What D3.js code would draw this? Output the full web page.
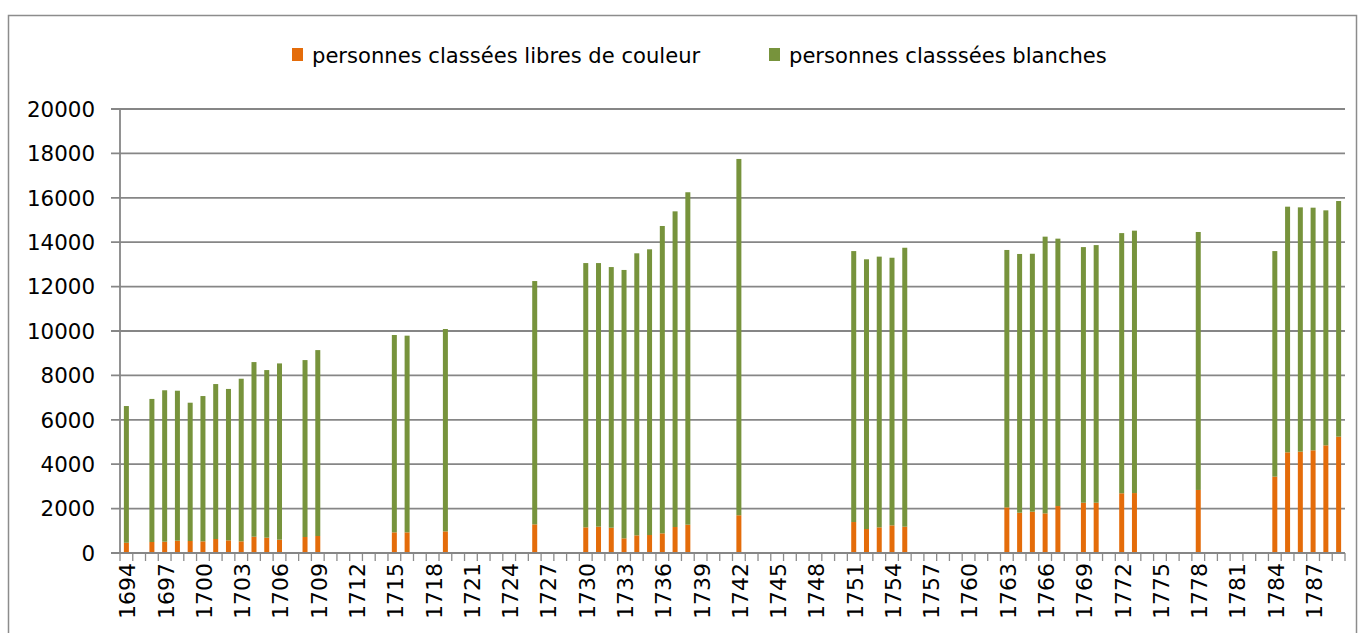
<!DOCTYPE html>
<html>
<head>
<meta charset="utf-8">
<script src="https://cdn.jsdelivr.net/npm/d3@7"></script>
<style>
  body { margin: 0; background: #fff; }
  svg { display: block; font-family: "DejaVu Sans", sans-serif; }
</style>
</head>
<body>
<div id="chart"></div>
<script>
// years that have a census value
var years = [1694, 1696, 1697, 1698, 1699, 1700, 1701, 1702, 1703, 1704, 1705, 1706, 1708, 1709,
             1715, 1716, 1719, 1726, 1730, 1731, 1732, 1733, 1734, 1735, 1736, 1737, 1738, 1742,
             1751, 1752, 1753, 1754, 1755, 1763, 1764, 1765, 1766, 1767, 1769, 1770, 1772, 1773,
             1778, 1784, 1785, 1786, 1787, 1788, 1789];

var libres = [460, 495, 510, 555, 540, 525, 630, 570, 525, 735, 690, 600, 720, 765,
              930, 930, 975, 1290, 1155, 1185, 1140, 660, 795, 810, 885, 1170, 1275, 1700,
              1395, 1080, 1155, 1245, 1185, 2055, 1815, 1860, 1785, 2115, 2265, 2265, 2690, 2700,
              2840, 3440, 4535, 4565, 4625, 4850, 5240];

var blanches = [6160, 6445, 6820, 6755, 6230, 6545, 6980, 6820, 7325, 7865, 7550, 7940, 7970, 8375,
                8890, 8860, 9115, 10960, 11905, 11875, 11740, 12090, 12705, 12870, 13845, 14220, 14975, 16050,
                12205, 12150, 12195, 12055, 12565, 11595, 11655, 11620, 12465, 12045, 11515, 11605, 11720, 11820,
                11620, 10160, 11065, 11005, 10930, 10585, 10615];

var seriesNames = ['personnes classées libres de couleur', 'personnes classsées blanches'];
var yTicks = [0, 2000, 4000, 6000, 8000, 10000, 12000, 14000, 16000, 18000, 20000];

var width = 1363, height = 633;
var margin = {left: 120, right: 18, top: 109, bottom: 80};
var colors = ['#e46c0a', '#77933c'];

var svg = d3.select('#chart').append('svg')
  .attr('width', width)
  .attr('height', height);

svg.append('rect')
  .attr('x', 8.5).attr('y', 15.5)
  .attr('width', 1348).attr('height', 640)
  .attr('fill', 'none')
  .attr('stroke', '#8c8c8c')
  .attr('stroke-width', 1.5);

var axisYears = d3.range(1694, 1790);
var x = d3.scaleBand()
  .domain(axisYears)
  .range([margin.left, width - margin.right])
  .padding(0);

var y = d3.scaleLinear()
  .domain([0, 20000])
  .range([553, margin.top]);

// gridlines
svg.append('g')
  .selectAll('line')
  .data(yTicks)
  .enter().append('line')
  .attr('x1', margin.left - 9)
  .attr('x2', width - margin.right)
  .attr('y1', function(d) { return y(d); })
  .attr('y2', function(d) { return y(d); })
  .attr('stroke', '#868686')
  .attr('stroke-width', 1.8);

// y labels
svg.append('g')
  .selectAll('text')
  .data(yTicks)
  .enter().append('text')
  .attr('x', 95)
  .attr('y', function(d) { return y(d); })
  .attr('dy', '0.36em')
  .attr('text-anchor', 'end')
  .style('font-size', '21.4px')
  .attr('fill', '#000')
  .text(function(d) { return d; });

// y axis line
svg.append('line')
  .attr('x1', margin.left).attr('x2', margin.left)
  .attr('y1', y(20000)).attr('y2', 553)
  .attr('stroke', '#868686').attr('stroke-width', 1.8);

// x ticks on category boundaries
var bounds = axisYears.map(function(d) { return x(d); }).concat([width - margin.right]);
svg.append('g')
  .selectAll('line')
  .data(bounds)
  .enter().append('line')
  .attr('x1', function(d) { return d; })
  .attr('x2', function(d) { return d; })
  .attr('y1', 553).attr('y2', 561)
  .attr('stroke', '#8c8c8c').attr('stroke-width', 1.3);

// x labels, every third year
var labelYears = axisYears.filter(function(d) { return (d - 1694) % 3 === 0; });
svg.append('g')
  .selectAll('text')
  .data(labelYears)
  .enter().append('text')
  .attr('transform', function(d) {
    return 'translate(' + (x(d) + x.bandwidth() / 2 + 1) + ',563) rotate(-90)';
  })
  .attr('text-anchor', 'end')
  .attr('dy', '0.36em')
  .style('font-size', '22px')
  .attr('fill', '#000')
  .text(function(d) { return d; });

// stacked bars
var rows = years.map(function(yr, i) {
  return {year: yr, libres: libres[i], blanches: blanches[i]};
});
var stack = d3.stack().keys(['libres', 'blanches']);
var layers = stack(rows);
var barW = 5;

svg.append('g')
  .selectAll('g')
  .data(layers)
  .enter().append('g')
  .attr('fill', function(d, i) { return colors[i]; })
  .selectAll('rect')
  .data(function(d) { return d; })
  .enter().append('rect')
  .attr('x', function(d) { return x(d.data.year) + x.bandwidth() / 2 - barW / 2; })
  .attr('y', function(d) { return y(d[1]); })
  .attr('width', barW)
  .attr('height', function(d) { return y(d[0]) - y(d[1]); });

// x axis line on top of the bars
svg.append('line')
  .attr('x1', margin.left).attr('x2', width - margin.right)
  .attr('y1', 553).attr('y2', 553)
  .attr('stroke', '#868686').attr('stroke-width', 1.8);

// legend
var legendX = [292, 769];
var legend = svg.append('g')
  .selectAll('g')
  .data(seriesNames)
  .enter().append('g')
  .attr('transform', function(d, i) { return 'translate(' + legendX[i] + ',0)'; });
legend.append('rect')
  .attr('x', 0).attr('y', 48)
  .attr('width', 11).attr('height', 13)
  .attr('fill', function(d, i) { return colors[i]; });
legend.append('text')
  .attr('x', 20).attr('y', 63)
  .style('font-size', '21.1px')
  .attr('fill', '#000')
  .text(function(d) { return d; });
</script>
</body>
</html>
